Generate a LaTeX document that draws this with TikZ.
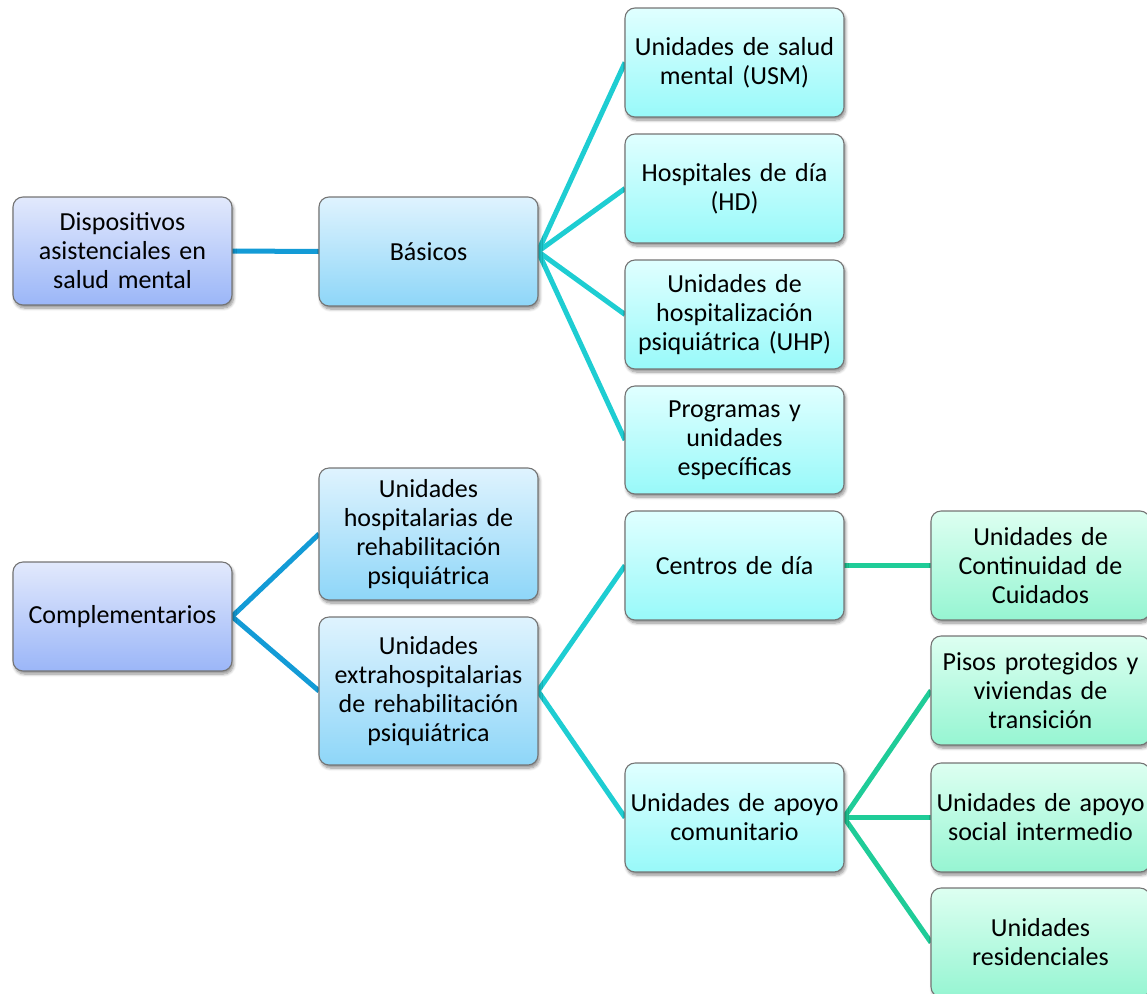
\documentclass[tikz,border=0pt]{standalone}
\usepackage{fontspec}
\setmainfont{Carlito}
\usetikzlibrary{shadows.blur}

\definecolor{lvA top}{HTML}{E2E9FC}
\definecolor{lvA bot}{HTML}{9BB6F8}
\definecolor{lvB top}{HTML}{DFF3FE}
\definecolor{lvB bot}{HTML}{8ED6F8}
\definecolor{lvC top}{HTML}{E0FFFF}
\definecolor{lvC bot}{HTML}{98F9F9}
\definecolor{lvD top}{HTML}{DDFFF1}
\definecolor{lvD bot}{HTML}{96F5D2}
\definecolor{edgeA}{HTML}{139BD6}
\definecolor{edgeB}{HTML}{1ECDD2}
\definecolor{edgeC}{HTML}{1FCC98}
\definecolor{boxline}{HTML}{747474}

\tikzset{
  box/.style={draw=boxline, line width=1.1pt, rounded corners=10pt,
    minimum width=219pt, minimum height=109pt, inner sep=0pt,
    align=center, text width=216pt,
    font=\fontsize{26pt}{29pt}\selectfont,
    blur shadow={shadow xshift=1.5pt, shadow yshift=-3pt,
      shadow blur steps=6, shadow blur radius=3pt, shadow opacity=45}},
  lvA/.style={box, top color=lvA top, bottom color=lvA bot},
  lvB/.style={box, top color=lvB top, bottom color=lvB bot},
  lvC/.style={box, top color=lvC top, bottom color=lvC bot},
  lvD/.style={box, top color=lvD top, bottom color=lvD bot},
  linkA/.style={draw=edgeA, line width=5pt},
  linkB/.style={draw=edgeB, line width=5pt},
  linkC/.style={draw=edgeC, line width=5pt},
}

\begin{document}
\begin{tikzpicture}[x=1pt, y=-1pt]
\useasboundingbox (0,0) rectangle (1147,993);
\clip (0,0) rectangle (1147,993);

% connectors first, so the boxes sit on top
\coordinate (d0e) at (232,251);
\coordinate (compe) at (232,616.5);
\coordinate (base) at (538,251.5);
\coordinate (extrae) at (538,691);
\coordinate (cde) at (844,565.5);
\coordinate (uace) at (844,817.5);

\coordinate (basw) at (319,251.5);
\coordinate (hospw) at (319,534);
\coordinate (extraw) at (319,691);
\coordinate (usmw) at (625,62.5);
\coordinate (hdw) at (625,188.5);
\coordinate (uhpw) at (625,314.5);
\coordinate (progw) at (625,440);
\coordinate (cdw) at (625,565.5);
\coordinate (uacw) at (625,817.5);
\coordinate (uccw) at (931,565.5);
\coordinate (pisosw) at (931,690.5);
\coordinate (uasiw) at (931,817.5);
\coordinate (uresw) at (931,942.5);

\draw[linkA] (d0e) -- (basw);
\draw[linkA] (compe) -- (hospw);
\draw[linkA] (compe) -- (extraw);
\draw[linkB] (base) -- (usmw);
\draw[linkB] (base) -- (hdw);
\draw[linkB] (base) -- (uhpw);
\draw[linkB] (base) -- (progw);
\draw[linkB] (extrae) -- (cdw);
\draw[linkB] (extrae) -- (uacw);
\draw[linkC] (cde) -- (uccw);
\draw[linkC] (uace) -- (pisosw);
\draw[linkC] (uace) -- (uasiw);
\draw[linkC] (uace) -- (uresw);

% first column
\node[lvA, minimum height=108pt] (d0) at (122.5,251) {Dispositivos\\asistenciales en\\salud mental};
\node[lvA] (comp) at (122.5,616.5) {Complementarios};

% second column
\node[lvB] (bas) at (428.5,251.5) {Básicos};
\node[lvB, minimum height=132pt] (hosp) at (428.5,534) {Unidades\\hospitalarias de\\rehabilitación\\psiquiátrica};
\node[lvB, minimum height=148pt] (extra) at (428.5,691) {Unidades\\extrahospitalarias\\de rehabilitación\\psiquiátrica};

% third column
\node[lvC] (usm) at (734.5,62.5) {Unidades de salud\\mental (USM)};
\node[lvC] (hd) at (734.5,188.5) {Hospitales de día\\(HD)};
\node[lvC] (uhp) at (734.5,314.5) {Unidades de\\hospitalización\\psiquiátrica (UHP)};
\node[lvC, minimum height=108pt] (prog) at (734.5,440) {Programas y\\unidades\\específicas};
\node[lvC] (cd) at (734.5,565.5) {Centros de día};
\node[lvC] (uac) at (734.5,817.5) {Unidades de apoyo\\comunitario};

% fourth column
\node[lvD] (ucc) at (1040.5,565.5) {Unidades de\\Continuidad de\\Cuidados};
\node[lvD] (pisos) at (1040.5,690.5) {Pisos protegidos y\\viviendas de\\transición};
\node[lvD] (uasi) at (1040.5,817.5) {Unidades de apoyo\\social intermedio};
\node[lvD] (ures) at (1040.5,942.5) {Unidades\\residenciales};
\end{tikzpicture}
\end{document}
